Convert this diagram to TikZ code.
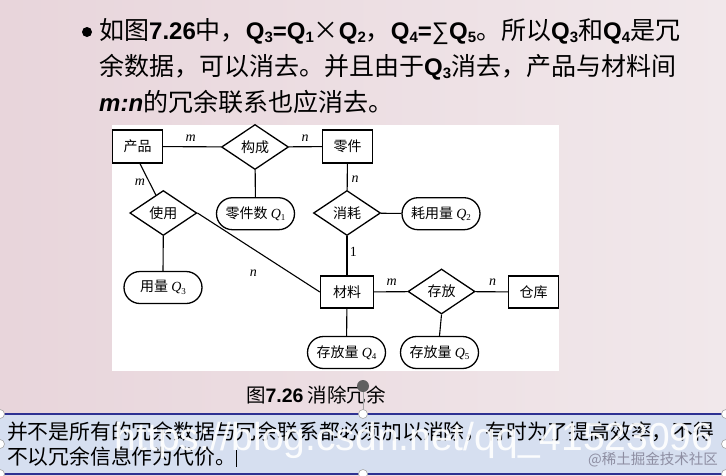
\documentclass[tikz,border=0pt]{standalone}
\usepackage{fontspec}
\setmainfont{Noto Sans CJK SC}
\newfontfamily\lat{Liberation Sans}
\newfontfamily\tms{Liberation Serif}
\usetikzlibrary{shapes.geometric,shapes.misc,calc}
\newcommand\fs[1]{\fontsize{#1}{#1}\selectfont}
\newcommand\bQ[1]{{\lat\bfseries\fs{24}Q\raisebox{-3pt}{\fs{15}#1}}}
\newcommand\bEq{{\lat\bfseries\fs{24}=}}
\newcommand\dQ[1]{{\tms\itshape Q}\raisebox{-2.5pt}{\tms\fs{9}#1}}
\definecolor{slideL}{HTML}{E8D5DB}
\definecolor{slideR}{HTML}{F1E8EB}
\definecolor{boxfill}{HTML}{D6DFF0}
\definecolor{navy}{HTML}{2E3192}
\definecolor{wmgray}{HTML}{8E8EA2}
\begin{document}
\begin{tikzpicture}[x=1pt,y=-1pt,
  ent/.style={draw, line width=1.3pt, minimum width=50pt, minimum height=33pt, inner sep=0pt, font=\fs{14}},
  rel/.style={draw, diamond, line width=1.3pt, minimum width=67pt, minimum height=45pt, inner sep=0pt, aspect=1.49, font=\fs{14}},
  att/.style={draw, rounded rectangle, line width=1.3pt, minimum width=78pt, minimum height=32pt, inner sep=0pt, font=\fs{14}},
  lnk/.style={line width=1.1pt},
  card/.style={font=\tms\itshape\fs{14}, inner sep=0pt},
  txt/.style={inner sep=0pt, anchor=west},
  handle/.style={fill=white, draw=gray!70, line width=0.6pt}]
\useasboundingbox (0,0) rectangle (726,475);
% slide background
\shade[left color=slideL, right color=slideR] (0,0) rectangle (726,475);
% heading text
\fill (87,32) circle (5);
\node[txt] (t1) at (99,32) {\fs{25}如图{\lat\bfseries\fs{24}7.26}中，\bQ{3}\bEq\bQ{1}×\bQ{2}，\bQ{4}\bEq{\lat\fs{24}∑}\bQ{5}。所以\bQ{3}和\bQ{4}是冗};
\node[txt] (t2) at (99,67) {\fs{25}余数据，可以消去。并且由于\bQ{3}消去，产品与材料间};
\node[txt] (t3) at (99,102) {\fs{25}{\lat\bfseries\itshape\fs{24}m:n}的冗余联系也应消去。};
% figure area
\fill[white] (112,125) rectangle (559,371);
\node[ent] (prod) at (137.5,146.5) {产品};
\node[rel] (gc) at (255,147) {构成};
\node[ent] (part) at (347.5,146.5) {零件};
\node[rel] (use) at (163.3,213) {使用};
\node[att] (q1) at (255.5,213.7) {零件数 \dQ{1}};
\node[rel] (xh) at (347,213) {消耗};
\node[att] (q2) at (441,213.7) {耗用量 \dQ{2}};
\node[att] (q3) at (163,287.5) {用量 \dQ{3}};
\node[ent, minimum width=53pt, minimum height=32pt] (mat) at (347,292) {材料};
\node[rel] (cf) at (441.5,291.5) {存放};
\node[ent, minimum height=32pt] (ck) at (533.5,292) {仓库};
\node[att] (q4) at (346.5,352.5) {存放量 \dQ{4}};
\node[att] (q5) at (439.5,352.5) {存放量 \dQ{5}};
% connectors
\draw[lnk] (prod) -- (gc);
\draw[lnk] (gc) -- (part);
\draw[lnk] (gc) -- (q1);
\draw[lnk] ([xshift=2.5pt]prod.south) -- ($(use.north)!0.22!(use.west)$);
\draw[lnk] (use.south) -- (q3.north);
\draw[lnk] (use.east) -- (mat.west);
\draw[lnk] (part) -- (xh);
\draw[lnk] (xh) -- (q2);
\draw[lnk] (xh) -- (mat);
\draw[lnk] (mat) -- (cf);
\draw[lnk] (cf) -- (ck);
\draw[lnk] (mat) -- (q4);
\draw[lnk] (cf.south) -- (q5.north);
% cardinalities
\node[card] (c1) at (190.7,138.3) {m};
\node[card] (c2) at (305,138) {n};
\node[card] (c3) at (140,181.7) {m};
\node[card] (c4) at (355,179.3) {n};
\node[card, font=\tms\fs{14}] (c5) at (353.3,251.7) {1};
\node[card] (c6) at (253.3,273.3) {n};
\node[card] (c7) at (391.7,282.3) {m};
\node[card] (c8) at (492.7,282.3) {n};
% caption
\node[inner sep=0pt, font=\fs{19.5}] (cap) at (316,395) {图{\lat\bfseries 7.26} 消除冗余};
% bottom text box
\fill[boxfill] (0,414) rectangle (726,475);
\draw[navy, line width=2pt] (0,414) -- (726,414);
\draw[navy, line width=2pt] (0,474) -- (726,474);
\node[txt, font=\fs{20.8}] (b1) at (7,432) {并不是所有的冗余数据与冗余联系都必须加以消除，有时为了提高效率，不得};
\node[txt, font=\fs{20.8}] (b2) at (7,457) {不以冗余信息作为代价。};
\draw[line width=0.8pt] (236,450) -- (236,467);
% watermarks
\node[inner sep=0pt, font=\lat\fs{39}, text=white, text opacity=0.92] (wm) at (414,440) {https://blog.csdn.net/qq\_41523096};
\node[inner sep=0pt, anchor=east, font=\fs{14.5}, text=wmgray] (wm2) at (718,460) {@稀土掘金技术社区};
% selection handles
\draw[gray!70, line width=0.6pt] (363,386) -- (363,414);
\fill[gray!75!black] (363,386) circle (6);
\foreach \p in {(0,414),(0,444),(0,474),(363,414),(363,474),(726,414),(726,444),(726,474)}
  \draw[handle] \p circle (4.5);
\end{tikzpicture}
\end{document}
